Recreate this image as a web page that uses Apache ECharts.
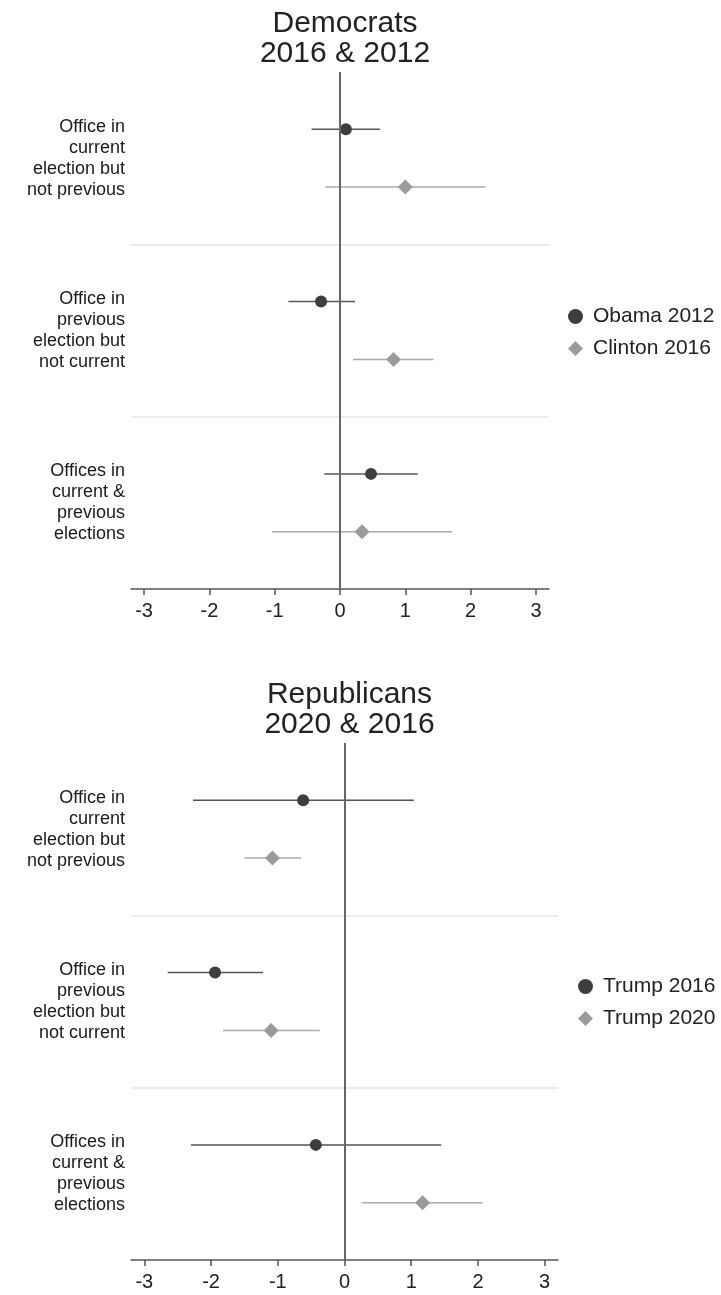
<!DOCTYPE html>
<html>
<head>
<meta charset="utf-8">
<title>Democrats 2016 & 2012 / Republicans 2020 & 2016</title>
<script src="https://cdn.jsdelivr.net/npm/echarts@6/dist/echarts.min.js"></script>
<style>
  html, body { margin: 0; padding: 0; background: #fff; }
  #chart { width: 721px; height: 1295px; }
</style>
</head>
<body>
<div id="chart"></div>
<script>
// Row labels shared by both panels (top to bottom)
const rowLabels = [
  'Office in\ncurrent\nelection but\nnot previous',
  'Office in\nprevious\nelection but\nnot current',
  'Offices in\ncurrent &\nprevious\nelections'
];
const xTicks = [-3, -2, -1, 0, 1, 2, 3];

// Democrats: point estimates and interval bounds per row
const obama2012Est = [0.09, -0.29, 0.475];
const obama2012Lo  = [-0.435, -0.79, -0.24];
const obama2012Hi  = [0.61, 0.23, 1.19];
const clinton2016Est = [1.0, 0.82, 0.337];
const clinton2016Lo  = [-0.225, 0.20, -1.04];
const clinton2016Hi  = [2.23, 1.43, 1.72];

// Republicans: point estimates and interval bounds per row
const trump2016Est = [-0.62, -1.94, -0.43];
const trump2016Lo  = [-2.27, -2.65, -2.30];
const trump2016Hi  = [1.04, -1.22, 1.45];
const trump2020Est = [-1.08, -1.10, 1.17];
const trump2020Lo  = [-1.50, -1.82, 0.26];
const trump2020Hi  = [-0.65, -0.37, 2.07];

const FONT = '"Liberation Sans", Arial, Helvetica, sans-serif';
const DARK = '#3d3d3d';
const LIGHT = '#9b9b9c';
const DARK_CI = '#555555';
const LIGHT_CI = '#ababab';
const ROW_SHIFT = 0.168; // vertical separation of the two series inside a row

// y position (in row units) of each series inside its row band
function rowY(i, side) { return i + 0.5 + side * ROW_SHIFT; }

function pointData(est, side) {
  return est.map((v, i) => [v, rowY(i, side)]);
}
function ciData(lo, hi, side) {
  return lo.map((v, i) => [v, hi[i], rowY(i, side)]);
}
function ciRenderer(color) {
  return function (params, api) {
    const a = api.coord([api.value(0), api.value(2)]);
    const b = api.coord([api.value(1), api.value(2)]);
    return {
      type: 'line',
      shape: { x1: a[0], y1: a[1], x2: b[0], y2: b[1] },
      style: { stroke: color, lineWidth: 1.5 }
    };
  };
}

function panelSeries(g, names, ests, los, his) {
  const xi = g, yi = g * 2 + 1;
  const out = [];
  // light row separators and the zero reference line
  out.push({
    type: 'scatter', name: 'ref' + g, data: [], xAxisIndex: xi, yAxisIndex: yi, z: 1,
    silent: true,
    markLine: {
      silent: true, symbol: 'none', animation: false,
      label: { show: false },
      data: [
        { yAxis: 1, lineStyle: { color: '#e6e6e6', width: 1.5, type: 'solid' } },
        { yAxis: 2, lineStyle: { color: '#e6e6e6', width: 1.5, type: 'solid' } }
      ]
    }
  });
  out.push({
    type: 'custom', name: 'ci0_' + g, xAxisIndex: xi, yAxisIndex: yi, z: 2,
    silent: true, renderItem: ciRenderer(DARK_CI),
    encode: { x: [0, 1], y: 2 }, data: ciData(los[0], his[0], -1)
  });
  out.push({
    type: 'custom', name: 'ci1_' + g, xAxisIndex: xi, yAxisIndex: yi, z: 2,
    silent: true, renderItem: ciRenderer(LIGHT_CI),
    encode: { x: [0, 1], y: 2 }, data: ciData(los[1], his[1], 1)
  });
  out.push({
    type: 'scatter', name: 'zero' + g, data: [], xAxisIndex: xi, yAxisIndex: yi, z: 3,
    silent: true,
    markLine: {
      silent: true, symbol: 'none', animation: false,
      label: { show: false },
      data: [{ xAxis: 0, lineStyle: { color: '#666666', width: 2, type: 'solid' } }]
    }
  });
  out.push({
    type: 'scatter', name: names[0], xAxisIndex: xi, yAxisIndex: yi, z: 4,
    symbol: 'circle', symbolSize: 12,
    itemStyle: { color: DARK, opacity: 1 },
    data: pointData(ests[0], -1)
  });
  out.push({
    type: 'scatter', name: names[1], xAxisIndex: xi, yAxisIndex: yi, z: 4,
    symbol: 'diamond', symbolSize: 15,
    itemStyle: { color: LIGHT, opacity: 1 },
    data: pointData(ests[1], 1)
  });
  return out;
}

function xAxisFor(g) {
  return {
    type: 'value', gridIndex: g, min: -3.2, max: 3.2,
    axisLine: { show: true, onZero: false, lineStyle: { color: '#555555', width: 1.5 } },
    axisTick: { show: true, length: 6, customValues: xTicks, lineStyle: { color: '#555555', width: 1.5 } },
    axisLabel: { customValues: xTicks, fontSize: 20, color: '#222', fontFamily: FONT, margin: 12 },
    splitLine: { show: false }
  };
}
function catAxisFor(g) {
  return {
    type: 'category', gridIndex: g, data: rowLabels, inverse: true,
    axisLine: { show: false }, axisTick: { show: false }, splitLine: { show: false },
    axisLabel: { fontSize: 18, lineHeight: 21, color: '#1a1a1a', fontFamily: FONT, margin: 6, align: 'right' }
  };
}
function valAxisFor(g) {
  return { type: 'value', gridIndex: g, min: 0, max: 3, inverse: true, show: false };
}

const chart = echarts.init(document.getElementById('chart'), null, { renderer: 'canvas' });
chart.setOption({
  animation: false,
  backgroundColor: '#ffffff',
  textStyle: { fontFamily: FONT },
  title: [
    {
      text: 'Democrats\n2016 & 2012', left: 340, top: 4, textAlign: 'center',
      textStyle: { fontSize: 30, lineHeight: 30, fontWeight: 'normal', color: '#222', fontFamily: FONT }
    },
    {
      text: 'Republicans\n2020 & 2016', left: 344.5, top: 675, textAlign: 'center',
      textStyle: { fontSize: 30, lineHeight: 30, fontWeight: 'normal', color: '#222', fontFamily: FONT }
    }
  ],
  legend: [
    {
      data: ['Obama 2012', 'Clinton 2016'], orient: 'vertical', left: 563, top: 301,
      itemWidth: 15, itemHeight: 15, itemGap: 11, selectedMode: false,
      textStyle: { fontSize: 21, lineHeight: 21, color: '#222', fontFamily: FONT, padding: [0, 0, 0, 5] }
    },
    {
      data: ['Trump 2016', 'Trump 2020'], orient: 'vertical', left: 573, top: 971,
      itemWidth: 15, itemHeight: 15, itemGap: 11, selectedMode: false,
      textStyle: { fontSize: 21, lineHeight: 21, color: '#222', fontFamily: FONT, padding: [0, 0, 0, 5] }
    }
  ],
  grid: [
    { left: 131, width: 418, top: 72, height: 517 },
    { left: 131, width: 427, top: 743, height: 517 }
  ],
  xAxis: [xAxisFor(0), xAxisFor(1)],
  yAxis: [catAxisFor(0), valAxisFor(0), catAxisFor(1), valAxisFor(1)],
  series: [].concat(
    panelSeries(0, ['Obama 2012', 'Clinton 2016'],
      [obama2012Est, clinton2016Est], [obama2012Lo, clinton2016Lo], [obama2012Hi, clinton2016Hi]),
    panelSeries(1, ['Trump 2016', 'Trump 2020'],
      [trump2016Est, trump2020Est], [trump2016Lo, trump2020Lo], [trump2016Hi, trump2020Hi])
  )
});
</script>
</body>
</html>
